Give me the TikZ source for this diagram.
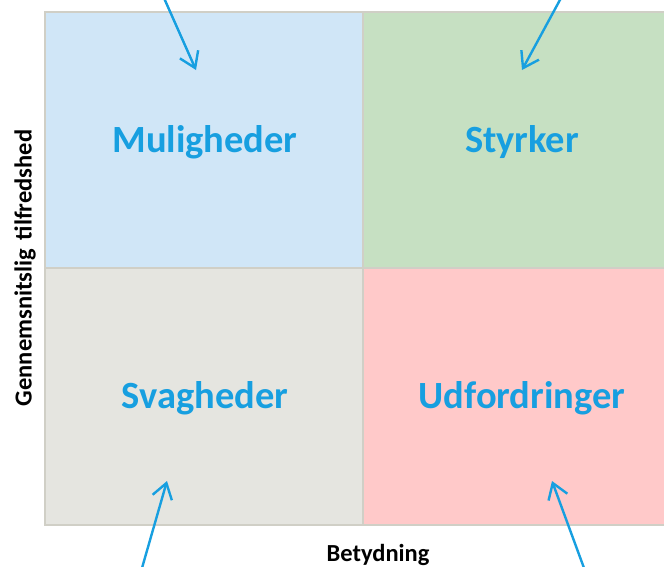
\documentclass[tikz,border=0pt]{standalone}
\usepackage{fontspec}
\setmainfont{Carlito}
\usetikzlibrary{arrows.meta}
\definecolor{qblue}{HTML}{D0E6F7}
\definecolor{qgreen}{HTML}{C6E0C2}
\definecolor{qgrey}{HTML}{E5E5E0}
\definecolor{qpink}{HTML}{FFC9C9}
\definecolor{qline}{HTML}{D0CFC6}
\definecolor{txtblue}{HTML}{179FE0}
\tikzset{
  quad/.style={draw=qline, line width=1.8pt},
  qlabel/.style={font=\fontsize{38.5}{44}\selectfont\bfseries, text=txtblue, inner sep=0pt},
  axislabel/.style={font=\fontsize{24.5}{29}\selectfont\bfseries, text=black, inner sep=0pt},
  pointer/.style={draw=txtblue, line width=2.4pt, line cap=round, line join=round,
    -{Straight Barb[length=15pt,width=20pt,line width=2.4pt]}}
}
\begin{document}
\begin{tikzpicture}[x=1pt,y=-1pt]
\useasboundingbox (0,0) rectangle (664,566);
\begin{scope}
\clip (0,0) rectangle (664,566);
\fill[white] (0,0) rectangle (664,566);
\draw[quad, fill=qblue]  (45,12)  rectangle (363,268);
\draw[quad, fill=qgreen] (363,12) rectangle (681,268);
\draw[quad, fill=qgrey]  (45,268) rectangle (363,525);
\draw[quad, fill=qpink]  (363,268) rectangle (681,525);
\end{scope}
\node[qlabel] (mul) at (205,142) {Muligheder};
\node[qlabel] (sty) at (522,142) {Styrker};
\node[qlabel] (sva) at (205,398) {Svagheder};
\node[qlabel] (udf) at (522,398) {Udfordringer};
\node[axislabel, rotate=90] (ylab) at (25,268) {Gennemsnitslig\hspace{3pt} tilfredshed};
\node[axislabel, anchor=base] (xlab) at (378,561) {Betydning};
\coordinate (a1s) at (164,-2);  \coordinate (a1e) at (196,70);
\coordinate (a2s) at (561,-2);  \coordinate (a2e) at (522,70);
\coordinate (a3s) at (142,568); \coordinate (a3e) at (167,481);
\coordinate (a4s) at (584,568); \coordinate (a4e) at (552,481);
\draw[pointer] (a1s) -- (a1e);
\draw[pointer] (a2s) -- (a2e);
\draw[pointer] (a3s) -- (a3e);
\draw[pointer] (a4s) -- (a4e);
\end{tikzpicture}
\end{document}
